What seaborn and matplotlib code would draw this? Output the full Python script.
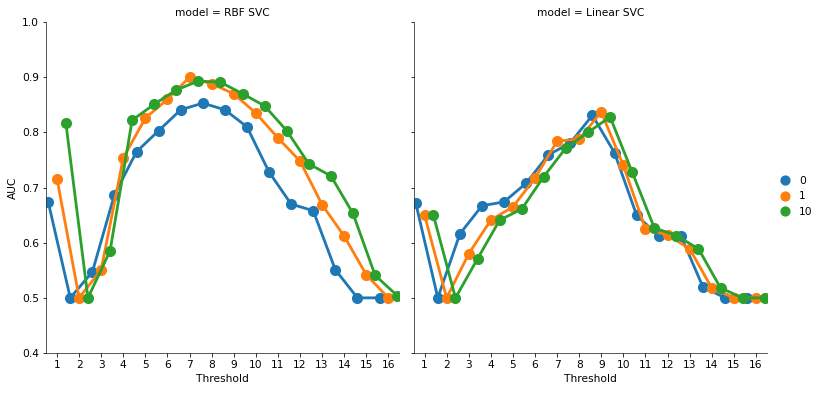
import numpy as np
import pandas as pd
import matplotlib
matplotlib.use("Agg")
import matplotlib.pyplot as plt
import seaborn as sns

# --- Data ---
thresholds = list(range(1, 17))
c_levels = ["0", "1", "10"]
models = ["RBF SVC", "Linear SVC"]

rbf_0 = [0.674, 0.500, 0.547, 0.687, 0.765, 0.803, 0.841, 0.853, 0.841, 0.810, 0.728, 0.670, 0.658, 0.551, 0.500, 0.500]
rbf_1 = [0.716, 0.500, 0.551, 0.754, 0.826, 0.860, 0.900, 0.888, 0.870, 0.835, 0.790, 0.748, 0.669, 0.612, 0.542, 0.500]
rbf_10 = [0.817, 0.500, 0.585, 0.822, 0.851, 0.877, 0.893, 0.891, 0.870, 0.848, 0.803, 0.743, 0.721, 0.653, 0.541, 0.504]

lin_0 = [0.672, 0.500, 0.616, 0.667, 0.674, 0.708, 0.759, 0.781, 0.831, 0.763, 0.650, 0.612, 0.613, 0.520, 0.500, 0.500]
lin_1 = [0.650, 0.500, 0.580, 0.641, 0.665, 0.717, 0.784, 0.788, 0.837, 0.740, 0.625, 0.614, 0.589, 0.518, 0.500, 0.500]
lin_10 = [0.650, 0.500, 0.571, 0.641, 0.661, 0.720, 0.772, 0.800, 0.828, 0.728, 0.627, 0.613, 0.589, 0.518, 0.500, 0.500]

series = {
    ("RBF SVC", "0"): rbf_0, ("RBF SVC", "1"): rbf_1, ("RBF SVC", "10"): rbf_10,
    ("Linear SVC", "0"): lin_0, ("Linear SVC", "1"): lin_1, ("Linear SVC", "10"): lin_10,
}

rows = []
for (model, c), vals in series.items():
    for t, v in zip(thresholds, vals):
        rows.append({"model": model, "C": c, "Threshold": t, "AUC": v})
df = pd.DataFrame(rows)

# --- Plot ---
sns.set_style("ticks", {"text.color": "black", "axes.labelcolor": "black",
                        "xtick.color": "black", "ytick.color": "black",
                        "axes.edgecolor": "0.2"})
plt.rcParams["font.family"] = ["DejaVu Sans"]
fs = 10.6
plt.rcParams["font.size"] = fs

g = sns.catplot(data=df, x="Threshold", y="AUC", hue="C", col="model",
                kind="point", dodge=0.8, errorbar=None,
                hue_order=c_levels, col_order=models,
                palette="tab10", markersize=9, linewidth=2.8,
                height=5, aspect=1)

g.set(ylim=(0.4, 1.0), yticks=np.arange(0.4, 1.01, 0.1))
g.set_titles("model = {col_name}", size=fs)
for ax in g.axes.flat:
    ax.tick_params(labelsize=fs)
    ax.set_xlabel("Threshold", fontsize=fs)
g.axes.flat[0].set_ylabel("AUC", fontsize=fs)

g.figure.set_size_inches(830 / 72, 394 / 72)
g.figure.subplots_adjust(left=0.0554, right=0.924, bottom=0.104, top=0.944, wspace=0.04)

sns.move_legend(g, "center left", bbox_to_anchor=(0.928, 0.502), frameon=False,
                title=None, fontsize=fs, handlelength=1.0, markerscale=0.9)
for h in g._legend.legend_handles:
    h.set_linestyle("")

plt.savefig("out.png", dpi=72)
